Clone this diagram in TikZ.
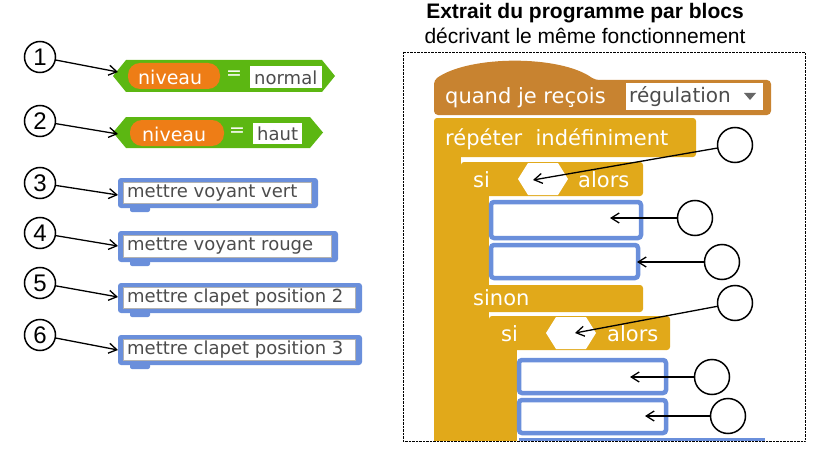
\documentclass[tikz,border=0pt]{standalone}
\usepackage{fontspec}
\setmainfont{Liberation Sans}
\newfontfamily\blk{DejaVu Sans}
\usetikzlibrary{arrows.meta}
\definecolor{sgreen}{HTML}{5CB712}
\definecolor{sorange}{HTML}{EE7D16}
\definecolor{sblue}{HTML}{6A8FDB}
\definecolor{sgold}{HTML}{E1A91A}
\definecolor{shat}{HTML}{C88330}
\begin{document}
\begin{tikzpicture}[x=1pt,y=-1pt,
  num/.style={circle,draw,line width=1.5pt,minimum size=31pt,inner sep=0pt,font=\fontsize{24}{24}\selectfont},
  emp/.style={circle,draw,line width=1.5pt,minimum size=35pt,inner sep=0pt},
  arr/.style={-{Straight Barb[length=8pt,width=10pt]},line width=1.3pt},
  wt/.style={text=white,font=\blk\fontsize{19}{19}\selectfont,inner sep=0pt,anchor=west},
  st/.style={text=white,font=\blk\fontsize{21}{21}\selectfont,inner sep=0pt,anchor=west},
  gt/.style={text=black!70,font=\blk\fontsize{18}{18}\selectfont,inner sep=0pt,anchor=west}]
\useasboundingbox (0,0) rectangle (817,452);
% titles
\node[font=\bfseries\fontsize{21}{21}\selectfont] (t1) at (585,13) {Extrait du programme par blocs};
\node[font=\fontsize{21}{21}\selectfont] (t2) at (585,36) {décrivant le même fonctionnement};
\draw[densely dotted] (403,52) rectangle (805,441);
% ---- left: green predicates
\newcommand\pred[3]{%
  \fill[sgreen] (113,#1/2+#2/2) -- (126,#1) -- (#3-13,#1) -- (#3,#1/2+#2/2) -- (#3-13,#2) -- (126,#2) -- cycle;}
\pred{60}{92}{335}
\fill[sorange,rounded corners=12pt] (128,63) rectangle (220,89);
\node[wt] (n1) at (138,77) {niveau};
\node[text=white,font=\blk\fontsize{19}{19}\selectfont] (e1) at (234,75) {=};
\fill[white] (250,66) rectangle (322,88);
\node[gt] (v1) at (254,78) {normal};
\pred{117}{148}{323}
\fill[sorange,rounded corners=12pt] (130,120) rectangle (224,146);
\node[wt] (n2) at (142,134) {niveau};
\node[text=white,font=\blk\fontsize{19}{19}\selectfont] (e2) at (237,132) {=};
\fill[white] (253,123) rectangle (302,144);
\node[gt] (v2) at (257,134) {haut};
% blue command blocks
\newcommand\cmd[4]{%
  \fill[sblue,rounded corners=3pt] (118,#1) rectangle (#3,#2);
  \fill[sblue,rounded corners=2pt] (130,#2-3) rectangle (150,#2+4);
  \fill[white] (123,#1+4) rectangle (#3-7,#2-5);
  \draw[black!30,line width=0.4pt] (123,#1+4) rectangle (#3-7,#2-5);
  \node[gt] at (127,#1/2+#2/2) {#4};}
\cmd{178}{208}{318}{mettre voyant vert}
\cmd{231}{262}{338}{mettre voyant rouge}
\cmd{283}{313}{362}{mettre clapet position 2}
\cmd{335}{365}{362}{mettre clapet position 3}
% numbered circles
\foreach \n/\y/\ty in {1/57/72,2/121/134,3/183/195,4/233/246,5/283/297,6/335/350}{
  \node[num] (c\n) at (40,\y) {\n};
  \coordinate (p\n) at (118,\ty);
  \draw[arr] (c\n) -- (p\n);
}
% ---- right: script
\fill[shat,rounded corners=4pt] (434,115) -- (434,80) .. controls (470,55) and (560,55) .. (595,80) -- (771,80) -- (771,115) -- cycle;
\node[st] (q) at (445,98) {quand je reçois};
\fill[white] (626,83) rectangle (763,110);
\node[gt,font=\blk\fontsize{20}{20}\selectfont] (reg) at (629,97) {régulation};
\fill[black!60] (744,93) -- (756,93) -- (750,100) -- cycle;
% repeat
\fill[sgold,rounded corners=3pt] (434,118) rectangle (696,157);
\fill[sgold] (434,150) rectangle (461,441);
\node[st] (rep) at (445,139) {répéter\ \ indéfiniment};
% si 1
\fill[sgold,rounded corners=3pt] (461,162) rectangle (643,196);
\fill[sgold] (461,190) rectangle (489,441);
\node[st] (si1) at (473,180) {si};
\fill[white] (518,179) -- (528,163) -- (558,163) -- (568,179) -- (558,195) -- (528,195) -- cycle;
\coordinate (h1) at (533,180);
\node[st] (al1) at (578,180) {alors};
\newcommand\sblk[4]{\draw[sblue,line width=4.5pt,rounded corners=3pt,fill=white] (#1+2,#2+2) rectangle (#3-2,#4-2);}
\sblk{489}{200}{643}{240}
\sblk{489}{243}{640}{280}
% sinon
\fill[sgold,rounded corners=3pt] (461,285) rectangle (643,312);
\node[st] (sn) at (473,298) {sinon};
% si 2
\fill[sgold,rounded corners=3pt] (489,316) rectangle (670,350);
\fill[sgold] (489,345) rectangle (517,441);
\node[st] (si2) at (501,334) {si};
\fill[white] (546,333) -- (556,317) -- (586,317) -- (596,333) -- (586,349) -- (556,349) -- cycle;
\coordinate (h2) at (575,333);
\node[st] (al2) at (607,334) {alors};
\sblk{517}{358}{668}{395}
\sblk{517}{398}{668}{435}
\fill[sblue] (519,438) rectangle (765,441);
% empty circles and arrows
\node[emp] (d1) at (735,145) {};
\node[emp] (d2) at (695,218) {};
\node[emp] (d3) at (722,262) {};
\node[emp] (d4) at (735,303) {};
\node[emp] (d5) at (712,377) {};
\node[emp] (d6) at (728,416) {};
\coordinate (b1) at (610,218);
\coordinate (b2) at (637,262);
\coordinate (b3) at (630,377);
\coordinate (b4) at (645,416);
\draw[arr] (d1) -- (h1);
\draw[arr] (d2) -- (b1);
\draw[arr] (d3) -- (b2);
\draw[arr] (d4) -- (h2);
\draw[arr] (d5) -- (b3);
\draw[arr] (d6) -- (b4);
\end{tikzpicture}
\end{document}
